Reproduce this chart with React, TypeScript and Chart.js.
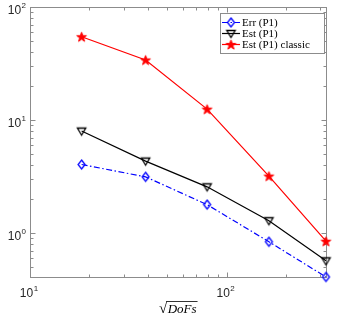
import React, { useEffect, useRef } from 'react';
import { Chart, registerables } from 'chart.js';

Chart.register(...registerables);

// ---- data ----
const dofs = [18.3, 38.7, 79.5, 164, 320];
const errP1 = [4.05, 3.15, 1.79, 0.84, 0.41];
const estP1 = [8.0, 4.34, 2.57, 1.29, 0.57];
const estClassic = [54.6, 34, 12.5, 3.2, 0.85];
const seriesNames = ['Err (P1)', 'Est (P1)', 'Est (P1) classic'];
const xTickValues = [10, 100];
const yTickValues = [1, 10, 100];
const xRange = [10, 320];
const yRange = [0.41, 100];
const xTitle = 'DoFs';

const AXIS_COLOR = '#8c8c8c';
const LABEL_COLOR = '#262626';

function logTicks(min: number, max: number): number[] {
  const out: number[] = [];
  const k0 = Math.floor(Math.log10(min));
  const k1 = Math.ceil(Math.log10(max));
  for (let k = k0; k <= k1; k++) {
    for (let m = 1; m <= 9; m++) {
      const v = m * Math.pow(10, k);
      if (v >= min * 0.9999 && v <= max * 1.0001) out.push(v);
    }
  }
  return out;
}

function isPow10(v: number) {
  const l = Math.log10(v);
  return Math.abs(l - Math.round(l)) < 1e-9;
}

function makeCanvas(size: number) {
  const c = document.createElement('canvas');
  c.width = size;
  c.height = size;
  return c;
}

function makeStar(color: string) {
  const size = 13;
  const c = makeCanvas(size);
  const ctx = c.getContext('2d')!;
  const cx = size / 2, cy = size / 2 + 0.5, R = 5.1, r = R * 0.4;
  ctx.beginPath();
  for (let i = 0; i < 10; i++) {
    const a = -Math.PI / 2 + (i * Math.PI) / 5;
    const rad = i % 2 === 0 ? R : r;
    ctx.lineTo(cx + rad * Math.cos(a), cy + rad * Math.sin(a));
  }
  ctx.closePath();
  ctx.fillStyle = color;
  ctx.fill();
  ctx.strokeStyle = color;
  ctx.lineWidth = 1;
  ctx.stroke();
  return c;
}

function makeDiamond(color: string) {
  const size = 13;
  const c = makeCanvas(size);
  const ctx = c.getContext('2d')!;
  const cx = size / 2, cy = size / 2;
  ctx.beginPath();
  ctx.moveTo(cx, cy - 4.5);
  ctx.lineTo(cx + 3.5, cy);
  ctx.lineTo(cx, cy + 4.5);
  ctx.lineTo(cx - 3.5, cy);
  ctx.closePath();
  ctx.strokeStyle = color;
  ctx.lineWidth = 1.3;
  ctx.stroke();
  return c;
}

function makeTriangleDown(color: string) {
  const size = 13;
  const c = makeCanvas(size);
  const ctx = c.getContext('2d')!;
  const cx = size / 2, cy = size / 2;
  ctx.beginPath();
  ctx.moveTo(cx - 4.2, cy - 3);
  ctx.lineTo(cx + 4.2, cy - 3);
  ctx.lineTo(cx, cy + 4);
  ctx.closePath();
  ctx.strokeStyle = color;
  ctx.lineWidth = 1.3;
  ctx.stroke();
  return c;
}

function drawPowLabel(ctx: CanvasRenderingContext2D, exp: number, x: number, baseline: number, align: 'center' | 'right') {
  const baseFont = '12px "Liberation Sans", Arial, sans-serif';
  const expFont = '8px "Liberation Sans", Arial, sans-serif';
  ctx.font = baseFont;
  const wb = ctx.measureText('10').width;
  ctx.font = expFont;
  const es = String(exp);
  const we = ctx.measureText(es).width;
  const total = wb + we + 0.5;
  const start = align === 'center' ? x - total / 2 : x - total;
  ctx.fillStyle = LABEL_COLOR;
  ctx.textAlign = 'left';
  ctx.textBaseline = 'alphabetic';
  ctx.font = baseFont;
  ctx.fillText('10', start, baseline);
  ctx.font = expFont;
  ctx.fillText(es, start + wb + 0.5, baseline - 6.5);
}

export default function App() {
  const ref = useRef<HTMLCanvasElement | null>(null);

  useEffect(() => {
    document.body.style.margin = '0';
    const canvas = ref.current!;
    const markers = [makeDiamond('#0000ff'), makeTriangleDown('#000000'), makeStar('#ff0000')];
    const colors = ['#0000ff', '#000000', '#ff0000'];
    const dashes: number[][] = [[6, 2.5, 1.5, 2.5], [], []];
    const values = [errP1, estP1, estClassic];

    const axesPlugin = {
      id: 'matlabAxes',
      beforeDatasetsDraw(chart: any) {
        const { ctx, chartArea: a, scales } = chart;
        const xs = scales.x, ys = scales.y;
        ctx.save();
        ctx.strokeStyle = AXIS_COLOR;
        ctx.lineWidth = 1;
        ctx.strokeRect(a.left + 0.5, a.top + 0.5, a.right - a.left, a.bottom - a.top);
        ctx.beginPath();
        for (const t of xs.ticks) {
          const px = Math.round(xs.getPixelForValue(t.value)) + 0.5;
          const len = isPow10(t.value) ? 5 : 3;
          ctx.moveTo(px, a.bottom + 0.5);
          ctx.lineTo(px, a.bottom + 0.5 - len);
          ctx.moveTo(px, a.top + 0.5);
          ctx.lineTo(px, a.top + 0.5 + len);
        }
        for (const t of ys.ticks) {
          const py = Math.round(ys.getPixelForValue(t.value)) + 0.5;
          const len = isPow10(t.value) ? 5 : 3;
          ctx.moveTo(a.left + 0.5, py);
          ctx.lineTo(a.left + 0.5 + len, py);
          ctx.moveTo(a.right + 0.5, py);
          ctx.lineTo(a.right + 0.5 - len, py);
        }
        ctx.stroke();

        // tick labels
        for (const v of xTickValues) {
          const px = xs.getPixelForValue(v);
          drawPowLabel(ctx, Math.round(Math.log10(v)), px - 1, a.bottom + 20, 'center');
        }
        for (const v of yTickValues) {
          const py = ys.getPixelForValue(v);
          drawPowLabel(ctx, Math.round(Math.log10(v)), a.left - 4, py + 7, 'right');
        }

        // x title: sqrt(DoFs)
        const cx = (a.left + a.right) / 2;
        const base = a.bottom + 36;
        ctx.font = '15px "Liberation Serif", "Times New Roman", serif';
        const rootW = ctx.measureText('\u221A').width;
        const m = ctx.measureText('\u221A');
        const rootTop = base - (m.actualBoundingBoxAscent || 11);
        ctx.font = 'italic 13px "Liberation Serif", "Times New Roman", serif';
        const tw = ctx.measureText(xTitle).width;
        const total = rootW + tw + 1;
        const sx = cx - total / 2;
        ctx.fillStyle = '#000';
        ctx.textAlign = 'left';
        ctx.textBaseline = 'alphabetic';
        ctx.font = '15px "Liberation Serif", "Times New Roman", serif';
        ctx.fillText('\u221A', sx, base);
        ctx.font = 'italic 13px "Liberation Serif", "Times New Roman", serif';
        ctx.fillText(xTitle, sx + rootW + 0.5, base);
        ctx.strokeStyle = '#000';
        ctx.lineWidth = 0.8;
        ctx.beginPath();
        ctx.moveTo(sx + rootW - 0.8, rootTop + 0.5);
        ctx.lineTo(sx + rootW + tw + 1.5, rootTop + 0.5);
        ctx.stroke();
        ctx.restore();
      },
      afterDraw(chart: any) {
        const { ctx } = chart;
        ctx.save();
        const bx = 220.5, by = 13.5, bw = 104, bh = 40;
        ctx.fillStyle = '#ffffff';
        ctx.fillRect(bx, by, bw, bh);
        ctx.strokeStyle = AXIS_COLOR;
        ctx.lineWidth = 1;
        ctx.strokeRect(bx, by, bw, bh);
        ctx.font = '11px "Liberation Serif", "Times New Roman", serif';
        ctx.textBaseline = 'middle';
        ctx.textAlign = 'left';
        for (let i = 0; i < seriesNames.length; i++) {
          const ry = 22.5 + i * 11;
          ctx.strokeStyle = colors[i];
          ctx.lineWidth = 1.2;
          ctx.setLineDash(dashes[i]);
          ctx.beginPath();
          ctx.moveTo(222, ry);
          ctx.lineTo(240, ry);
          ctx.stroke();
          ctx.setLineDash([]);
          const mk = markers[i];
          ctx.drawImage(mk, 231 - mk.width / 2, ry - mk.height / 2);
          ctx.fillStyle = '#000';
          ctx.fillText(seriesNames[i], 242, ry + 0.5);
        }
        ctx.restore();
      },
    };

    const chart = new Chart(canvas, {
      type: 'line',
      data: {
        datasets: values.map((vals, i) => ({
          label: seriesNames[i],
          data: dofs.map((x, j) => ({ x, y: vals[j] })),
          borderColor: colors[i],
          backgroundColor: colors[i],
          borderWidth: 1.2,
          borderDash: dashes[i],
          pointStyle: markers[i] as any,
          pointRadius: 5,
          pointHoverRadius: 5,
          fill: false,
          tension: 0,
          clip: false as any,
        })),
      },
      options: {
        animation: false,
        responsive: false,
        devicePixelRatio: 1,
        layout: { padding: { top: 7, right: 15, left: 0, bottom: 0 } },
        plugins: {
          legend: { display: false },
          tooltip: { enabled: false },
        },
        scales: {
          x: {
            type: 'logarithmic',
            min: xRange[0],
            max: xRange[1],
            grid: { display: false },
            border: { display: false },
            ticks: { display: false },
            afterBuildTicks: (s: any) => {
              s.ticks = logTicks(xRange[0], xRange[1]).map((v) => ({ value: v }));
            },
            afterFit: (s: any) => {
              s.height = 45;
            },
          },
          y: {
            type: 'logarithmic',
            min: yRange[0],
            max: yRange[1],
            grid: { display: false },
            border: { display: false },
            ticks: { display: false },
            afterBuildTicks: (s: any) => {
              s.ticks = logTicks(yRange[0], yRange[1]).map((v) => ({ value: v }));
            },
            afterFit: (s: any) => {
              s.width = 30;
            },
          },
        },
      },
      plugins: [axesPlugin],
    });
    return () => chart.destroy();
  }, []);

  return (
    <div style={{ width: 341, height: 322 }}>
      <canvas ref={ref} width={341} height={322} style={{ width: 341, height: 322, display: 'block' }} />
    </div>
  );
}
